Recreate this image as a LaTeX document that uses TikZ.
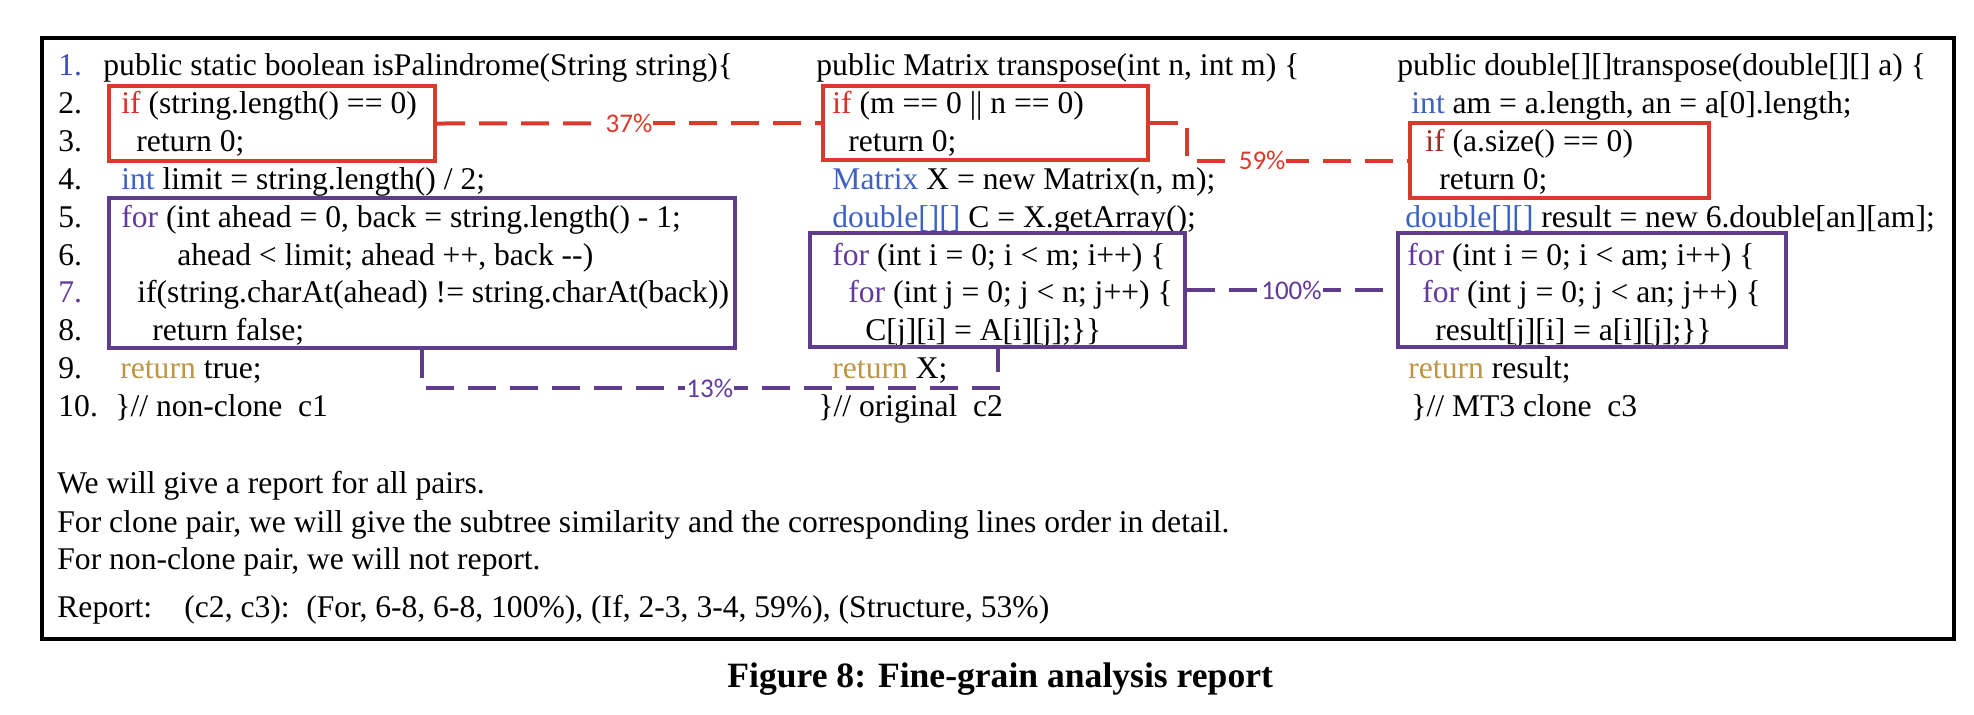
\documentclass[tikz,border=0pt]{standalone}
\usepackage{fontspec}
\setmainfont{Liberation Serif}
\newfontfamily\labelfont{Carlito}
\definecolor{boxred}{RGB}{218,58,44}
\definecolor{boxpurple}{RGB}{96,60,140}
\definecolor{kwred}{RGB}{226,45,38}
\definecolor{kwdarkred}{RGB}{165,42,30}
\definecolor{kwblue}{RGB}{62,98,196}
\definecolor{kwpurple}{RGB}{98,58,158}
\definecolor{kwgold}{RGB}{190,150,70}
\definecolor{numblue}{RGB}{60,78,170}
\usepackage{tikz}
\usetikzlibrary{fit}
\newcommand{\kif}{\textcolor{kwred}{if}}
\newcommand{\kint}{\textcolor{kwblue}{int}}
\newcommand{\kfor}{\textcolor{kwpurple}{for}}
\newcommand{\kret}{\textcolor{kwgold}{return}}
\newcommand{\kdbl}{\textcolor{kwblue}{double[][]}}

\begin{document}
\begin{tikzpicture}[
      x=0.5pt,
      y=-0.5pt,
      code/.style={anchor=base west, inner sep=0pt,
        font=\fontsize{15.8}{18}\selectfont},
      redbox/.style={draw=boxred, line width=2pt, inner sep=0pt},
      purplebox/.style={draw=boxpurple, line width=2pt, inner sep=0pt},
      redlink/.style={boxred, line width=2pt, dash pattern=on 14pt off 7pt},
      purplelink/.style={boxpurple, line width=2pt, dash pattern=on 14pt off 7pt},
      pct/.style={fill=white, inner sep=0.5pt,
        font=\labelfont\fontsize{13.5}{14}\selectfont}
    ]
    \fill[white] (0,0) rectangle (1974,714);
    \useasboundingbox (0,0) rectangle (1974,714);

    \node[draw, line width=2pt, inner sep=0pt,
      fit={(42,38) (1954,639)}] (frame) {};

    \foreach \n/\y/\c in {1/75/numblue, 2/113/black, 3/151/black,
        4/189/black, 5/227/black, 6/265/black, 7/302/kwpurple,
        8/340/black, 9/378/black, 10/416/black}
      \node[code, text=\c] (num\n) at (58,\y) {\n.};

    \node[code] (a1) at (103,75) {public static boolean isPalindrome(String string)\{};
    \node[code] (a2) at (121,113) {\kif{} (string.length() == 0)};
    \node[code] (a3) at (136,151) {return 0;};
    \node[code] (a4) at (121,189) {\kint{} limit = string.length() / 2;};
    \node[code] (a5) at (121,227) {\kfor{} (int ahead = 0, back = string.length() - 1;};
    \node[code] (a6) at (177,265) {ahead < limit; ahead ++, back -{}-)};
    \node[code] (a7) at (137,302) {if(string.charAt(ahead) != string.charAt(back))};
    \node[code] (a8) at (152,340) {return false;};
    \node[code] (a9) at (120,378) {\kret{} true;};
    \node[code] (a10) at (115,416) {\}// non-clone~~c1};

    \node[code] (b1) at (816,75) {public Matrix transpose(int n, int m) \{};
    \node[code] (b2) at (832,113) {\kif{} (m == 0 || n == 0)};
    \node[code] (b3) at (848,151) {return 0;};
    \node[code] (b4) at (832,189) {\textcolor{kwblue}{Matrix} X = new Matrix(n, m);};
    \node[code] (b5) at (832,227) {\kdbl{} C = X.getArray();};
    \node[code] (b6) at (832,265) {\kfor{} (int i = 0; i < m; i++) \{};
    \node[code] (b7) at (848,302) {\kfor{} (int j = 0; j < n; j++) \{};
    \node[code] (b8) at (865,340) {C[j][i] = A[i][j];\}\}};
    \node[code] (b9) at (832,378) {\kret{} X;};
    \node[code] (b10) at (818,416) {\}// original~~c2};

    \node[code] (c1) at (1397,75) {public double[][]transpose(double[][] a) \{};
    \node[code] (c2) at (1411,113) {\kint{} am = a.length, an = a[0].length;};
    \node[code] (c3) at (1425,151) {\textcolor{kwdarkred}{if} (a.size() == 0)};
    \node[code] (c4) at (1439,189) {return 0;};
    \node[code] (c5) at (1405,227) {\kdbl{} result = new 6.double[an][am];};
    \node[code] (c6) at (1407,265) {\kfor{} (int i = 0; i < am; i++) \{};
    \node[code] (c7) at (1422,302) {\kfor{} (int j = 0; j < an; j++) \{};
    \node[code] (c8) at (1435,340) {result[j][i] = a[i][j];\}\}};
    \node[code] (c9) at (1408,378) {\kret{} result;};
    \node[code] (c10) at (1411,416) {\}// MT3 clone~~c3};

    \node[redbox, fit={(109,86) (435,161)}] (if1) {};
    \node[redbox, fit={(823,86) (1148,160)}] (if2) {};
    \node[redbox, fit={(1410,123) (1709,198)}] (if3) {};
    \node[purplebox, fit={(109,198) (735,348)}] (for1) {};
    \node[purplebox, fit={(810,233) (1185,347)}] (for2) {};
    \node[purplebox, fit={(1398,233) (1786,347)}] (for3) {};

    \draw[redlink] (if1.east) -- node[pct, text=boxred] {37\%} (if2.west);
    \draw[redlink] (if2.east) -- ++(37,0) |- node[pct, pos=0.67, text=boxred] {59\%} (if3.west);
    \draw[purplelink] (for2) -- node[pct, text=kwpurple] {100\%} (for3);
    \draw[purplelink] (for1.south) -- ++(0,38) -| node[pct, pos=0.25, text=kwpurple] {13\%} (for2.south);

    \node[code] (r1) at (57,493) {We will give a report for all pairs.};
    \node[code] (r2) at (57,532) {For clone pair, we will give the subtree similarity and the corresponding lines order in detail.};
    \node[code] (r3) at (57,569) {For non-clone pair, we will not report.};
    \node[code] (r4) at (57,617) {Report:};
    \node[code] (r5) at (184,617) {(c2, c3):};
    \node[code] (r6) at (306,617) {(For, 6-8, 6-8, 100\%), (If, 2-3, 3-4, 59\%), (Structure, 53\%)};

    \node[anchor=base west, inner sep=0pt, font=\bfseries\fontsize{17.8}{20}\selectfont]
      (caption) at (727,687) {Figure 8: Fine-grain analysis report};
  \end{tikzpicture}
\end{document}
